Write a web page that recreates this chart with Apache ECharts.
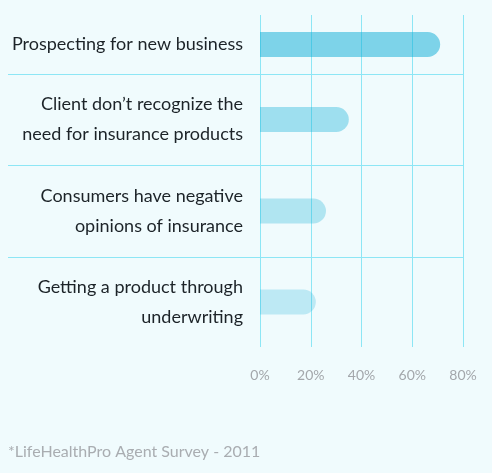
<!DOCTYPE html>
<html>
<head>
<meta charset="utf-8">
<script src="https://cdn.jsdelivr.net/npm/echarts@6/dist/echarts.min.js"></script>
<style>
* {
  margin: 0;
  padding: 0;
}
html, body {
  background: #f0fbfd;
}
#chart-container {
  width: 492px;
  height: 473px;
}
</style>
</head>
<body>
<div id="chart-container"></div>
<script>
const categories = [
  'Prospecting for new business',
  'Client don\u2019t recognize the\nneed for insurance products',
  'Consumers have negative\nopinions of insurance',
  'Getting a product through\nunderwriting'
]
const values = [71, 35, 26, 22]
const xTickLabels = ['0%', '20%', '40%', '60%', '80%']
const sourceNote = '*LifeHealthPro Agent Survey - 2011'

const chart = echarts.init(document.getElementById('chart-container'))

// row edges (px) - first row is shorter because its label is one line
const rowEdges = [15, 74, 165, 257, 347]
const barColors = [
  'rgba(20,175,215,0.52)',
  'rgba(20,175,215,0.37)',
  'rgba(20,175,215,0.29)',
  'rgba(20,175,215,0.23)'
]
const lineColor = '#8de6f5'
const font = 'Lato'

const grids = []
const xAxes = []
const yAxes = []
const series = []

categories.forEach((name, i) => {
  const isLast = i === categories.length - 1
  const separators = i === 1 || i === 2
  grids.push({
    left: 260,
    right: 29,
    top: rowEdges[i],
    height: rowEdges[i + 1] - rowEdges[i]
  })
  xAxes.push({
    type: 'value',
    gridIndex: i,
    min: 0,
    max: 80,
    interval: 20,
    axisLine: { show: false },
    axisTick: { show: false },
    splitLine: { show: true, lineStyle: { color: lineColor, width: 1 } },
    axisLabel: {
      show: isLast,
      margin: 21,
      color: '#a3a7ab',
      fontSize: 14,
      fontFamily: font,
      formatter: (v) => xTickLabels[v / 20]
    }
  })
  yAxes.push({
    type: 'category',
    gridIndex: i,
    data: [name],
    axisLine: { show: false },
    axisTick: {
      show: separators,
      length: 252,
      lineStyle: { color: lineColor, width: 1 }
    },
    splitLine: { show: separators, lineStyle: { color: lineColor, width: 1 } },
    axisLabel: {
      margin: 17,
      color: '#1c2328',
      fontSize: 18,
      lineHeight: 30,
      fontFamily: font,
      align: 'right'
    }
  })
  series.push({
    type: 'bar',
    xAxisIndex: i,
    yAxisIndex: i,
    data: [values[i]],
    barWidth: 25,
    itemStyle: {
      color: barColors[i],
      borderRadius: [0, 12.5, 12.5, 0]
    },
    silent: true
  })
})

chart.setOption({
  backgroundColor: '#f0fbfd',
  animation: false,
  title: {
    text: sourceNote,
    left: 3,
    top: 439,
    textStyle: {
      color: '#a9adb1',
      fontSize: 16,
      fontWeight: 'normal',
      fontFamily: font
    }
  },
  grid: grids,
  xAxis: xAxes,
  yAxis: yAxes,
  series: series
})
</script>
</body>
</html>
